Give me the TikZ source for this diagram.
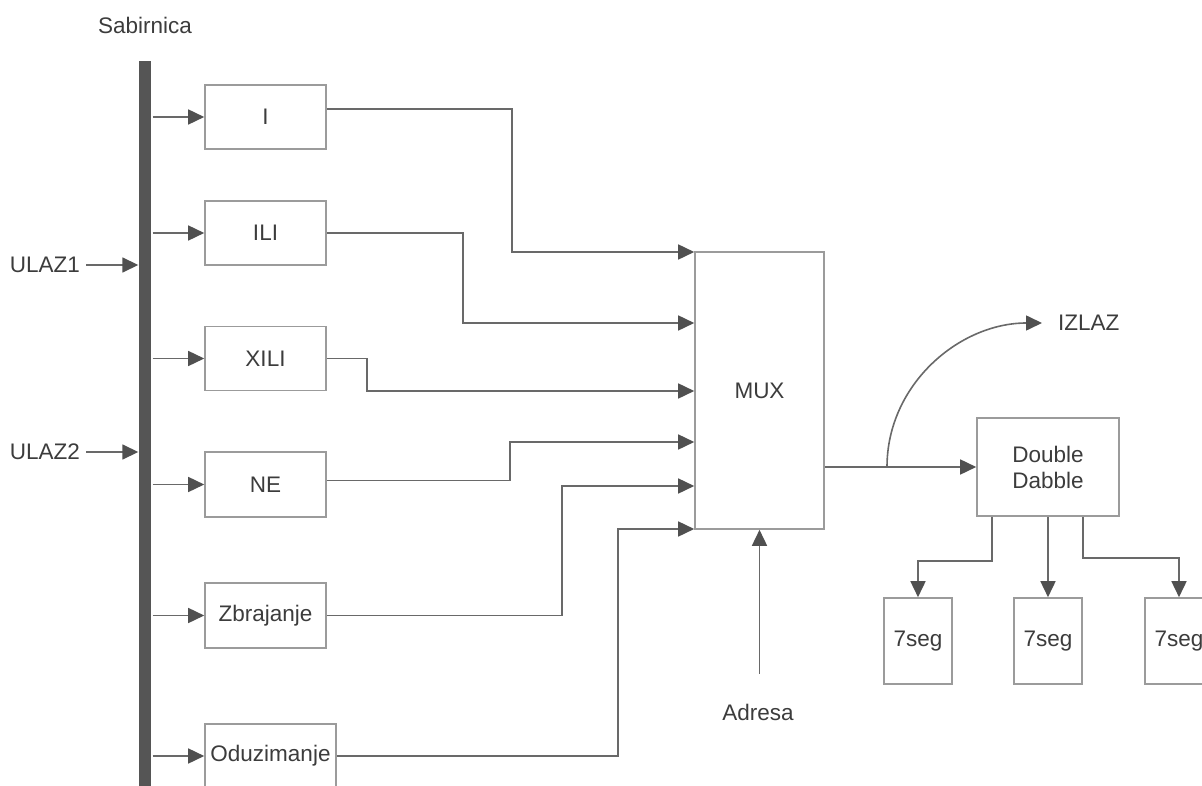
\documentclass[tikz,border=0pt]{standalone}
\usepackage{fontspec}
\setmainfont{Liberation Sans}
\usetikzlibrary{arrows.meta}
\definecolor{linec}{RGB}{105,105,105}
\definecolor{headc}{RGB}{80,80,80}
\definecolor{boxc}{RGB}{155,155,155}
\definecolor{textc}{RGB}{60,60,60}
\definecolor{busc}{RGB}{85,85,85}
\tikzset{
  blk/.style={draw=boxc, line width=1.6pt, fill=white, rectangle, inner sep=0pt, text=textc, font=\fontsize{22.5}{26}\selectfont, align=center},
  lbl/.style={inner sep=0pt, text=textc, font=\fontsize{22.5}{26}\selectfont},
  conn/.style={draw=linec, line width=1.6pt},
  arr/.style={conn, -{Triangle[length=16pt,width=15pt,fill=headc,color=headc]}},
}
\begin{document}
\begin{tikzpicture}[x=1pt,y=-1pt]
\useasboundingbox (0,0) rectangle (1202,786);
\clip (0,0) rectangle (1202,786);

% bus
\node[fill=busc, inner sep=0pt, minimum width=12pt, minimum height=740pt] (bus) at (144.5,431) {};
\node[lbl] (sab) at (145,25) {Sabirnica};

% left blocks
\node[blk, minimum width=121pt, minimum height=64pt] (I) at (265.5,117) {I};
\node[blk, minimum width=121pt, minimum height=64pt] (ILI) at (265.5,233) {ILI};
\node[blk, minimum width=121pt, minimum height=64pt] (XILI) at (265.5,358.5) {XILI};
\node[blk, minimum width=121pt, minimum height=65pt] (NE) at (265.5,484.5) {NE};
\node[blk, minimum width=121pt, minimum height=65pt] (ZB) at (265.5,615.5) {Zbrajanje};
\node[blk, minimum width=131pt, minimum height=64pt] (OD) at (270.5,756) {Oduzimanje};

% inputs
\node[lbl] (U1) at (45,265) {ULAZ1};
\node[lbl] (U2) at (45,452) {ULAZ2};
\draw[arr] ([xshift=6pt]U1.east) -- (U1 -| bus.west);
\draw[arr] ([xshift=6pt]U2.east) -- (U2 -| bus.west);

% bus to blocks
\foreach \n in {I,ILI,XILI,NE,ZB,OD}{
  \draw[arr] ([xshift=2pt]\n.west -| bus.east) -- (\n.west);
}

% MUX
\node[blk, minimum width=129pt, minimum height=277pt] (MUX) at (759.5,390.5) {MUX};

\draw[arr] ([yshift=8pt]I.east) -| (512,252) -- (MUX.west |- 0,252);
\draw[arr] (ILI.east) -| (463,323) -- (MUX.west |- 0,323);
\draw[arr] (XILI.east) -| (367,391) -- (MUX.west |- 0,391);
\draw[arr] ([yshift=4pt]NE.east) -| (510,442) -- (MUX.west |- 0,442);
\draw[arr] (ZB.east) -| (562,486) -- (MUX.west |- 0,486);
\draw[arr] (OD.east) -| (618,529) -- (MUX.west |- 0,529);

% Adresa
\node[lbl] (AD) at (758,712) {Adresa};
\draw[arr] ([yshift=30pt]MUX.south |- AD.north) -- (MUX.south);

% Double Dabble
\node[blk, minimum width=142pt, minimum height=98pt] (DD) at (1048,467) {Double\\Dabble};
\draw[arr] (DD.west -| MUX.east) -- (DD.west);
\coordinate (sp) at (887,467);

% IZLAZ
\node[lbl, anchor=west] (IZ) at (1058,323) {IZLAZ};
\draw[arr] (sp) to[out=90,in=180] ([xshift=-16pt]IZ.west);

% 7seg
\node[blk, minimum width=68pt, minimum height=86pt] (S1) at (918,641) {7seg};
\node[blk, minimum width=68pt, minimum height=86pt] (S2) at (1048,641) {7seg};
\node[blk, minimum width=68pt, minimum height=86pt] (S3) at (1179,641) {7seg};

\draw[arr] ([xshift=-56pt]DD.south) |- (918,561) -- (S1.north);
\draw[arr] (DD.south) -- (S2.north);
\draw[arr] ([xshift=35pt]DD.south) |- (1179,558) -- (S3.north);
\end{tikzpicture}
\end{document}
